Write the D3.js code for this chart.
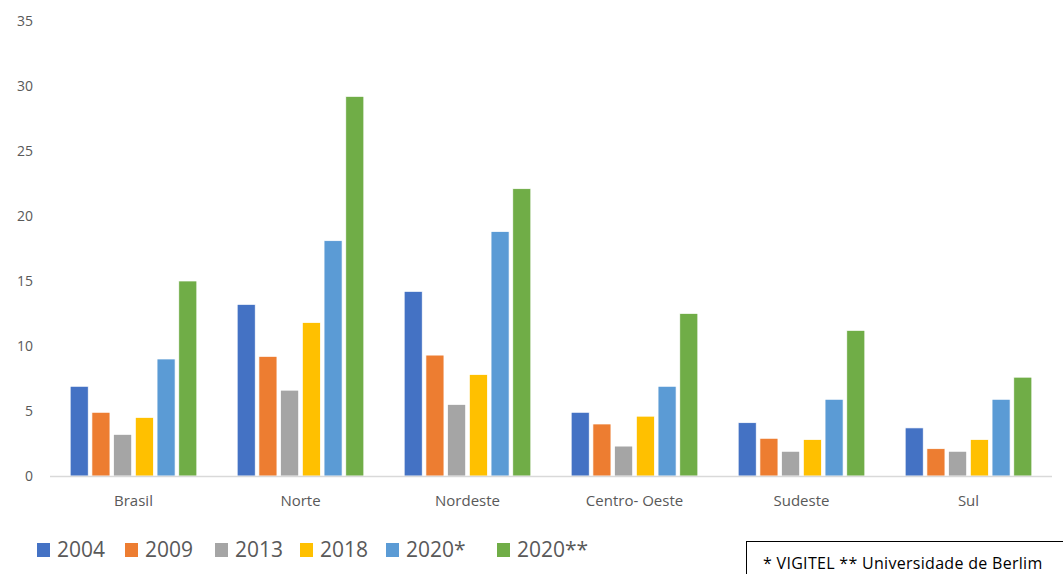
<!DOCTYPE html>
<html><head><meta charset="utf-8">
<script src="https://cdn.jsdelivr.net/npm/d3@7"></script>
<style>html,body{margin:0;padding:0;background:#fff;}svg{display:block;font-family:"Open Sans",Lato,sans-serif;}</style>
</head><body><svg id="c" width="1063" height="574"></svg>
<script>
const categories = ["Brasil","Norte","Nordeste","Centro- Oeste","Sudeste","Sul"];
const seriesNames = ["2004","2009","2013","2018","2020*","2020**"];
const s2004   = [6.9, 13.2, 14.2, 4.9, 4.1, 3.7];
const s2009   = [4.9, 9.2, 9.3, 4.0, 2.9, 2.1];
const s2013   = [3.2, 6.6, 5.5, 2.3, 1.9, 1.9];
const s2018   = [4.5, 11.8, 7.8, 4.6, 2.8, 2.8];
const s2020a  = [9.0, 18.1, 18.8, 6.9, 5.9, 5.9];
const s2020b  = [15.0, 29.2, 22.1, 12.5, 11.2, 7.6];
const yTicks = [0,5,10,15,20,25,30,35];
const colors = ["#4472C4","#ED7D31","#A5A5A5","#FFC000","#5B9BD5","#70AD47"];
const footnote = "* VIGITEL ** Universidade de Berlim";

const seriesValues = [s2004,s2009,s2013,s2018,s2020a,s2020b];
const svg = d3.select("#c");
const x0 = d3.scaleBand().domain(categories).range([50,1052]).paddingInner(0).paddingOuter(0);
const x1 = d3.scaleBand().domain(seriesNames).range([0, x0.bandwidth()]).paddingInner(0.17).paddingOuter(0.93);
const y = d3.scaleLinear().domain([0,35]).range([476,21]);

// y tick labels
svg.append("g").selectAll("text").data(yTicks).join("text")
  .attr("x",33).attr("y",d=>y(d)).attr("dy","0.35em").attr("text-anchor","end")
  .attr("font-size",14).attr("fill","#595959").text(d=>d);

// bars
const g = svg.append("g");
categories.forEach((c,ci)=>{
  seriesNames.forEach((s,si)=>{
    const v = seriesValues[si][ci];
    g.append("rect").attr("x",x0(c)+x1(s)).attr("y",y(v))
      .attr("width",x1.bandwidth()).attr("height",y(0)-y(v))
      .attr("fill",colors[si]).attr("stroke","#fff").attr("stroke-width",0.7);
  });
});

// x axis line
svg.append("line").attr("x1",50).attr("x2",1052).attr("y1",y(0)+0.5).attr("y2",y(0)+0.5)
  .attr("stroke","#d9d9d9").attr("stroke-width",1.5);

// category labels
svg.append("g").selectAll("text").data(categories).join("text")
  .attr("x",d=>x0(d)+x0.bandwidth()/2).attr("y",501).attr("dy","0.35em")
  .attr("text-anchor","middle").attr("font-size",15).attr("fill","#595959").text(d=>d);

// legend
const legX = [37,125,215,300,386,497];
const leg = svg.append("g");
seriesNames.forEach((s,i)=>{
  leg.append("rect").attr("x",legX[i]).attr("y",543).attr("width",13).attr("height",14).attr("fill",colors[i]);
  leg.append("text").attr("x",legX[i]+20).attr("y",550).attr("dy","0.35em")
    .attr("font-size",21).attr("fill","#595959").text(s);
});

// footnote box
svg.append("rect").attr("x",746.5).attr("y",541.5).attr("width",330).attr("height",60)
  .attr("fill","#fff").attr("stroke","#000").attr("stroke-width",1);
svg.append("text").attr("x",763).attr("y",563).attr("dy","0.35em").attr("font-size",16)
  .attr("letter-spacing",0.3).attr("fill","#000").text(footnote);
</script></body></html>
